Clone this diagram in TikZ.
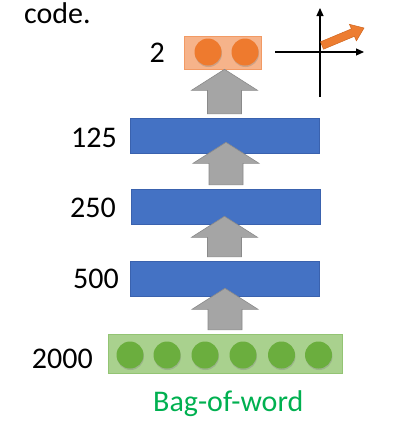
\documentclass[tikz,border=0pt]{standalone}
\usepackage{fontspec}
\setmainfont{Carlito}
\usetikzlibrary{calc,arrows.meta,shadows}
\definecolor{barblue}{HTML}{4472C4}
\definecolor{barblueedge}{HTML}{3A62AE}
\definecolor{arrowgray}{HTML}{A5A5A5}
\definecolor{arrowedge}{HTML}{8A8A8A}
\definecolor{boxorange}{HTML}{F6B38A}
\definecolor{boxorangeedge}{HTML}{F29A64}
\definecolor{ballorange}{HTML}{EE7A2E}
\definecolor{boxgreen}{HTML}{A9D18E}
\definecolor{boxgreenedge}{HTML}{93C474}
\definecolor{ballgreen}{HTML}{6BAE3E}
\definecolor{textgreen}{HTML}{00B050}
\definecolor{vecorange}{HTML}{ED7D31}
\definecolor{vecorangeedge}{HTML}{D0661F}
\newcommand{\blockup}[3]{%
  \draw[grayarrow] let \p1=(#1.north), \p2=(#2.south) in
    (\x1-17pt,\y1+4pt) -- (\x1-17pt,\y2+#3pt-21pt) -- (\x1-33pt,\y2+#3pt-21pt)
    -- (\x1,\y2+#3pt) -- (\x1+33pt,\y2+#3pt-21pt) -- (\x1+17pt,\y2+#3pt-21pt)
    -- (\x1+17pt,\y1+4pt) -- cycle;}
\begin{document}
\begin{tikzpicture}[x=1pt,y=-1pt,
  layer/.style={rectangle, draw=barblueedge, fill=barblue, line width=0.6pt,
    minimum width=189pt, minimum height=35pt, inner sep=0pt},
  lbl/.style={anchor=base east, inner sep=0pt, font=\fontsize{30}{36}\selectfont},
  oball/.style={circle, minimum size=27pt, inner sep=0pt, fill=ballorange,
    drop shadow={shadow xshift=0.5pt, shadow yshift=-1.5pt, opacity=0.35}},
  gball/.style={circle, minimum size=27pt, inner sep=0pt, fill=ballgreen,
    drop shadow={shadow xshift=0.5pt, shadow yshift=-1.5pt, opacity=0.35}},
  grayarrow/.style={draw=arrowedge, fill=arrowgray, line width=0.6pt},
  axis/.style={line width=1.1pt, -{Triangle[length=8pt,width=7pt]}},
]
\useasboundingbox (0,0) rectangle (404,426);

% title fragment
\node[anchor=base west, inner sep=0pt, font=\fontsize{30}{36}\selectfont] (code) at (24,23) {code.};

% code layer
\node[rectangle, draw=boxorangeedge, fill=boxorange, line width=0.6pt,
  minimum width=77pt, minimum height=33pt, inner sep=0pt] (obox) at (222.5,52.5) {};
\node[oball] (o1) at (208,52) {};
\node[oball] (o2) at (245,52) {};
\node[lbl] (l2) at (165,62) {2};

% hidden layers
\node[layer] (b125) at (224.5,135.5) {};
\node[layer] (b250) at (226,206.5) {};
\node[layer] (b500) at (224.5,278.5) {};
\node[lbl] (l125) at (117,147) {125};
\node[lbl] (l250) at (116,217) {250};
\node[lbl] (l500) at (119,288) {500};

% input layer
\node[rectangle, draw=boxgreenedge, fill=boxgreen, line width=0.6pt,
  minimum width=234pt, minimum height=39pt, inner sep=0pt] (gbox) at (225,353.5) {};
\foreach \i/\x in {1/130,2/167,3/205,4/243,5/281.5,6/318.5}
  \node[gball] (g\i) at (\x,355) {};
\node[lbl] (l2000) at (93,368) {2000};
\node[anchor=base west, inner sep=0pt, text=textgreen,
  font=\fontsize{30}{36}\selectfont] (bow) at (153,411) {Bag-of-word};

% block arrows
\blockup{gbox}{b500}{8}
\blockup{b500}{b250}{8}
\blockup{b250}{b125}{11}
\blockup{b125}{obox}{0}

% axes with code vector
\coordinate (xs) at (275,52);
\coordinate (xe) at (364,52);
\coordinate (ys) at (320,97);
\coordinate (ye) at (320,8);
\draw[axis] (xs) -- (xe);
\draw[axis] (ys) -- (ye);
\draw[fill=vecorange, draw=vecorangeedge, line width=0.5pt]
  (320.5,41.8) -- (351.4,28.9) -- (349.4,24.3) -- (364,28) -- (356.4,40.9)
  -- (354.4,36.3) -- (323.5,49.2) -- cycle;
\end{tikzpicture}
\end{document}
